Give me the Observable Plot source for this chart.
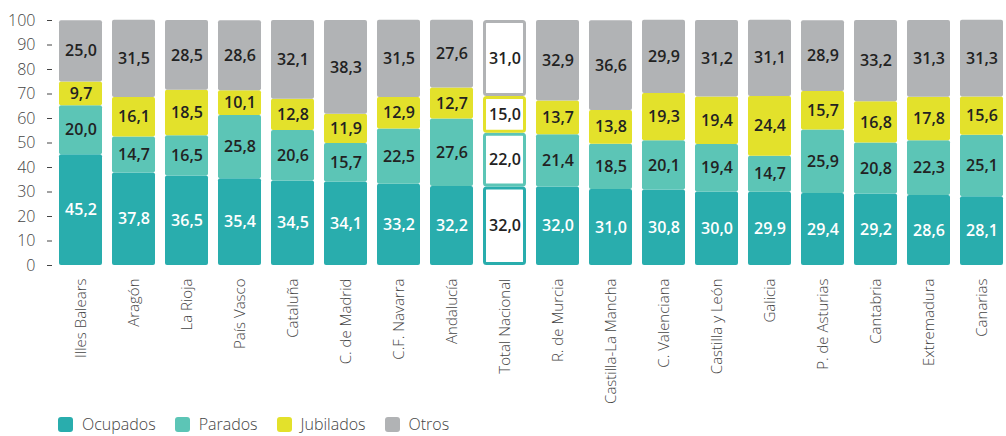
<!DOCTYPE html>
<html>
<head>
<meta charset="utf-8">
<script src="https://cdn.jsdelivr.net/npm/d3@7"></script>
<script src="https://cdn.jsdelivr.net/npm/@observablehq/plot@0.6"></script>
<style>
  body { margin: 0; background: #fff; font-family: "Open Sans", sans-serif; }
  #legend { display: flex; align-items: center; height: 28px; padding-left: 58px; font-size: 16px; color: #444; font-weight: 300; }
  #legend .item { display: flex; align-items: center; margin-right: 19px; }
  #legend .sw { width: 15px; height: 15px; border-radius: 3px; margin-right: 9px; }
</style>
</head>
<body>
<div id="chart"></div>
<div id="legend"></div>
<script>
const categories = ["Illes Balears","Aragón","La Rioja","País Vasco","Cataluña","C. de Madrid","C.F. Navarra","Andalucía","Total Nacional","R. de Murcia","Castilla-La Mancha","C. Valenciana","Castilla y León","Galicia","P. de Asturias","Cantabria","Extremadura","Canarias"];
const series = ["Ocupados","Parados","Jubilados","Otros"];
const colors = ["#29adad","#5cc5b6","#e3e12b","#b1b3b5"];
const ocupados  = [45.2,37.8,36.5,35.4,34.5,34.1,33.2,32.2,32.0,32.0,31.0,30.8,30.0,29.9,29.4,29.2,28.6,28.1];
const parados   = [20.0,14.7,16.5,25.8,20.6,15.7,22.5,27.6,22.0,21.4,18.5,20.1,19.4,14.7,25.9,20.8,22.3,25.1];
const jubilados = [9.7,16.1,18.5,10.1,12.8,11.9,12.9,12.7,15.0,13.7,13.8,19.3,19.4,24.4,15.7,16.8,17.8,15.6];
const otros     = [25.0,31.5,28.5,28.6,32.1,38.3,31.5,27.6,31.0,32.9,36.6,29.9,31.2,31.1,28.9,33.2,31.3,31.3];
const yTicks = [0,10,20,30,40,50,60,70,80,90,100];
const highlight = "Total Nacional";

const valuesBySeries = [ocupados, parados, jubilados, otros];
const data = [];
categories.forEach((c, i) => {
  series.forEach((s, j) => data.push({cat: c, series: s, value: valuesBySeries[j][i]}));
});
const fmt = v => v.toFixed(1).replace(".", ",");
const normal = data.filter(d => d.cat !== highlight);
const hi = data.filter(d => d.cat === highlight);

const chart = Plot.plot({
  width: 1006,
  height: 410,
  marginLeft: 58,
  marginRight: 1.5,
  marginTop: 20,
  marginBottom: 145,
  style: {fontFamily: "'Open Sans', sans-serif", background: "#fff"},
  x: {domain: categories, paddingInner: 0.19, paddingOuter: 0, label: null},
  y: {domain: [0, 100], label: null},
  color: {domain: series, range: colors},
  marks: [
    Plot.barY(normal, {x: "cat", y: "value", fill: "series", rx: 2}),
    Plot.barY(hi, {x: "cat", y: "value", fill: "white", stroke: "series", strokeWidth: 3, inset: 1.5, rx: 2}),
    Plot.text(normal, Plot.stackY({x: "cat", y: "value", text: d => fmt(d.value),
      fill: d => d.series === "Ocupados" ? "white" : "#222",
      fontSize: 16, fontWeight: 600})),
    Plot.text(hi, Plot.stackY({x: "cat", y: "value", text: d => fmt(d.value),
      fill: "#222", fontSize: 16, fontWeight: 600})),
    Plot.axisY({ticks: yTicks, tickSize: 5, dx: -6, tickPadding: 12, fontSize: 16, fontWeight: 300, color: "#444", label: null}),
    Plot.axisX({tickRotate: -90, tickSize: 0, tickPadding: 13, fontSize: 15, fontWeight: 300, color: "#444", label: null})
  ]
});
document.getElementById("chart").appendChild(chart);

const legend = document.getElementById("legend");
series.forEach((s, i) => {
  const it = document.createElement("div");
  it.className = "item";
  it.innerHTML = `<span class="sw" style="background:${colors[i]}"></span><span>${s}</span>`;
  legend.appendChild(it);
});
</script>
</body>
</html>
